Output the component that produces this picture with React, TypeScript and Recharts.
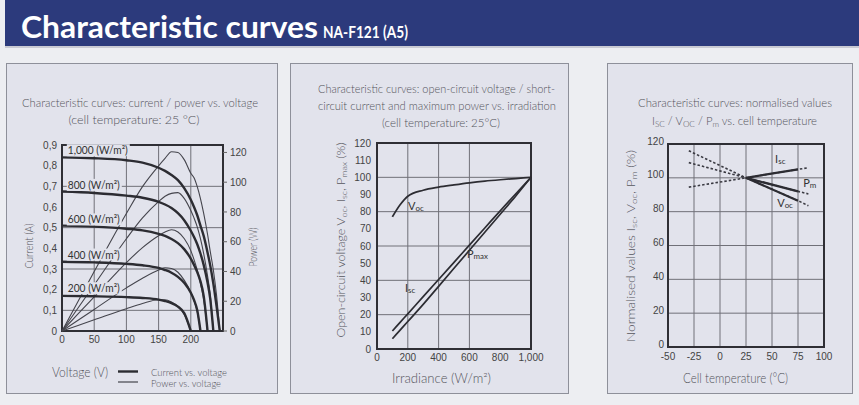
import React from 'react';
import {
  CartesianGrid,
  Line,
  LineChart,
  ReferenceArea,
  ReferenceDot,
  XAxis,
  YAxis,
} from 'recharts';

// panel 1: current / power vs. voltage, one curve pair per irradiance level
const voltage = [0, 50, 100, 125, 150, 160, 170, 180, 190, 200, 205, 210, 215, 220, 226, 230, 235, 240, 245];
const current1000 = [0.84, 0.836, 0.826, 0.815, 0.79, 0.775, 0.755, 0.73, 0.69, 0.635, 0.6, 0.56, 0.51, 0.46, 0.38, 0.32, 0.23, 0.12, 0];
const power1000 = [0, 40, 79, 97, 111, 116, 120.5, 120, 115, 106, 103, 97, 89, 79, 65, 54, 41, 24, 0];
const current800 = [0.675, 0.668, 0.655, 0.645, 0.625, 0.612, 0.595, 0.57, 0.535, 0.485, 0.455, 0.42, 0.375, 0.32, 0.235, 0.16, 0, null, null];
const power800 = [0, 31, 62, 76, 87, 90.5, 92.5, 93, 89, 81, 76, 70, 62, 52, 37, 25, 0, null, null];
const current600 = [0.51, 0.505, 0.495, 0.487, 0.47, 0.46, 0.445, 0.425, 0.395, 0.35, 0.32, 0.285, 0.24, 0.17, 0, null, null, null, null];
const power600 = [0, 23, 46, 56, 64, 66.5, 68, 66.5, 62, 54, 48, 41, 32, 21, 0, null, null, null, null];
const current400 = [0.335, 0.332, 0.325, 0.318, 0.305, 0.295, 0.282, 0.262, 0.232, 0.185, 0.15, 0.1, 0, null, null, null, null, null, null];
const power400 = [0, 14.5, 29, 35.5, 41, 42.5, 42, 39.5, 34, 26, 20.5, 13, 0, null, null, null, null, null, null];
const current200 = [0.17, 0.168, 0.164, 0.16, 0.152, 0.145, 0.135, 0.118, 0.085, 0, null, null, null, null, null, null, null, null, null];
const power200 = [0, 7.5, 15, 18.5, 21, 21, 19.5, 16.5, 11, 0, null, null, null, null, null, null, null, null, null];
const irradianceLevels = ['1,000', '800', '600', '400', '200'];
const voltageTicks = [0, 50, 100, 150, 200];
const currentTicks = [0, 0.1, 0.2, 0.3, 0.4, 0.5, 0.6, 0.7, 0.8, 0.9];
const powerTicks = [0, 20, 40, 60, 80, 100, 120];

// panel 2: Voc / Isc / Pmax vs. irradiance
const irradiance = [100, 150, 200, 300, 400, 500, 600, 700, 800, 900, 1000];
const vocIrr = [77, 84, 89, 92.5, 94.3, 95.6, 96.8, 97.8, 98.6, 99.3, 100];
const iscIrr = [10.5, 15.5, 20.5, 30.5, 40.5, 50.5, 60.5, 70.5, 80.5, 90.3, 100];
const pmaxIrr = [6, 11, 16, 26, 36.5, 47, 57.5, 68, 78.5, 89, 100];
const irrTicks = [0, 200, 400, 600, 800, 1000];
const pctTicks = [0, 10, 20, 30, 40, 50, 60, 70, 80, 90, 100, 110, 120];

// panel 3: normalised values vs. cell temperature
const cellTemp = [-30, 25, 75, 85];
const iscTemp = [94.5, 100, 105, 106];
const vocTemp = [116, 100, 86.5, 83.5];
const pmTemp = [109, 100, 92, 90.5];
const iscTempSolid = [null, 100, 105, null];
const vocTempSolid = [null, 100, 86.5, null];
const pmTempSolid = [null, 100, 92, null];
const tempTicks = [-50, -25, 0, 25, 50, 75, 100];
const normTicks = [0, 20, 40, 60, 80, 100, 120];

const ivData = voltage.map((v, k) => ({
  v,
  i1000: current1000[k], p1000: power1000[k],
  i800: current800[k], p800: power800[k],
  i600: current600[k], p600: power600[k],
  i400: current400[k], p400: power400[k],
  i200: current200[k], p200: power200[k],
}));
const irrData = irradiance.map((g, k) => ({ g, voc: vocIrr[k], isc: iscIrr[k], pmax: pmaxIrr[k] }));
const tempData = cellTemp.map((t, k) => ({
  t,
  isc: iscTemp[k], voc: vocTemp[k], pm: pmTemp[k],
  iscS: iscTempSolid[k], vocS: vocTempSolid[k], pmS: pmTempSolid[k],
}));
const levelKeys = ['1000', '800', '600', '400', '200'];
const levelY = [0.875, 0.707, 0.54, 0.37, 0.207];

const PAGE = '#edeef2';
const PANEL = '#e2e3ec';
const BORDER = '#8e909a';
const GRID = '#707078';
const FRAME = '#2f2f35';
const INK = '#2c2c32';
const F = 'Lato, sans-serif';
const tick = { fontSize: 10, fill: '#444', fontFamily: 'Liberation Sans, Arial, sans-serif' };

const comma = (v: number) => String(v).replace('.', ',');
const thousands = (v: number) => (v === 1000 ? '1,000' : String(v));

// text pieces: [text, shift] where shift 0 = normal, 3 = subscript
const rich = (parts: Array<[string, number]>, fs: number) => {
  let cur = 0;
  return parts.map(([t, s], k) => {
    const dy = s - cur;
    cur = s;
    return (
      <tspan key={k} dy={dy} fontSize={s === 0 ? fs : fs * 0.72}>
        {t}
      </tspan>
    );
  });
};

const T = ({ x, y, w, size = 12, anchor = 'middle', rot = false, color = '#55555c', weight = 300, children }: any) => (
  <text
    x={x}
    y={y}
    fontSize={size}
    fontFamily={F}
    fontWeight={weight}
    fill={color}
    textAnchor={anchor}
    dominantBaseline="central"
    textLength={w}
    lengthAdjust="spacingAndGlyphs"
    transform={rot ? `rotate(-90 ${x} ${y})` : undefined}
  >
    {children}
  </text>
);

const irrLabel = (text: string, w: number) => (props: any) => {
  const vb = props.viewBox ?? props;
  return (
    <g>
      <rect x={vb.x - 1} y={vb.y - 6} width={w + 3} height={12} fill={PANEL} />
      <text x={vb.x} y={vb.y} dominantBaseline="central" fontSize={10.5} fontFamily={F} fill="#333" textLength={w} lengthAdjust="spacingAndGlyphs">
        {text} (W/m²)
      </text>
    </g>
  );
};

const subLabel = (main: string, sub: string, fs = 11) => (props: any) => {
  const vb = props.viewBox ?? props;
  return (
    <text x={vb.x} y={vb.y} dominantBaseline="central" fontSize={fs} fontFamily={F} fill="#333">
      {rich([[main, 0], [sub, 3]], fs)}
    </text>
  );
};

export default function App() {
  return (
    <div style={{ position: 'absolute', left: 0, top: 0, width: 859, height: 405, background: PAGE, overflow: 'hidden' }}>
      <div style={{ position: 'absolute', left: 5, top: 0, width: 854, height: 46, background: '#2c3a7c' }} />
      <div style={{ position: 'absolute', left: 5, top: 46, width: 854, height: 2, background: '#c9cad3' }} />
      <div style={{ position: 'absolute', left: 6, top: 63, width: 270, height: 329, background: PANEL, border: `1px solid ${BORDER}` }} />
      <div style={{ position: 'absolute', left: 290, top: 63, width: 277, height: 329, background: PANEL, border: `1px solid ${BORDER}` }} />
      <div style={{ position: 'absolute', left: 607, top: 63, width: 244, height: 329, background: PANEL, border: `1px solid ${BORDER}` }} />

      <div style={{ position: 'absolute', left: 0, top: 130 }}>
        <LineChart width={270} height={221} data={ivData} margin={{ top: 15, right: 17, bottom: 0, left: 22 }}>
          <CartesianGrid stroke={GRID} yAxisId="i" />
          <XAxis dataKey="v" type="number" domain={[0, 250]} ticks={voltageTicks} axisLine={false} tickLine={false} tickSize={3} tickMargin={2} tick={tick} height={20} />
          <YAxis yAxisId="i" domain={[0, 0.9]} ticks={currentTicks} tickFormatter={comma} axisLine={false} tickLine={false} tickSize={3} tickMargin={2} tick={tick} width={40} />
          <YAxis yAxisId="p" orientation="right" domain={[0, 125]} ticks={powerTicks} axisLine={false} tickLine={{ stroke: '#666' }} tickSize={4} tickMargin={3} tick={tick} width={30} />
          {levelKeys.map((k) => (
            <Line key={'p' + k} yAxisId="p" dataKey={'p' + k} type="monotone" stroke="#45454d" strokeWidth={1.1} dot={false} isAnimationActive={false} />
          ))}
          {levelKeys.map((k) => (
            <Line key={'i' + k} yAxisId="i" dataKey={'i' + k} type="monotone" stroke={INK} strokeWidth={2.4} dot={false} isAnimationActive={false} />
          ))}
          <ReferenceArea yAxisId="i" x1={0} x2={250} y1={0} y2={0.9} fill="none" stroke={FRAME} strokeWidth={2} />
          {irradianceLevels.map((t, k) => (
            <ReferenceDot key={t} yAxisId="i" x={9} y={levelY[k]} r={0} fill="none" stroke="none" label={irrLabel(t, k === 0 ? 60 : 52)} />
          ))}
        </LineChart>
      </div>

      <div style={{ position: 'absolute', left: 290, top: 128 }}>
        <LineChart width={270} height={241} data={irrData} margin={{ top: 15, right: 29, bottom: 0, left: 47 }}>
          <CartesianGrid stroke={GRID} />
          <XAxis dataKey="g" type="number" domain={[0, 1000]} ticks={irrTicks} tickFormatter={thousands} axisLine={false} tickLine={false} tickSize={3} tickMargin={2} tick={tick} height={20} />
          <YAxis domain={[0, 120]} ticks={pctTicks} axisLine={false} tickLine={false} tickSize={3} tickMargin={3} tick={tick} width={40} />
          <Line dataKey="voc" type="monotone" stroke={INK} strokeWidth={1.7} dot={false} isAnimationActive={false} />
          <Line dataKey="isc" type="monotone" stroke={INK} strokeWidth={1.7} dot={false} isAnimationActive={false} />
          <Line dataKey="pmax" type="monotone" stroke={INK} strokeWidth={1.7} dot={false} isAnimationActive={false} />
          <ReferenceArea x1={0} x2={1000} y1={0} y2={120} fill="none" stroke={FRAME} strokeWidth={2} />
          <ReferenceDot x={201} y={84} r={0} fill="none" stroke="none" label={subLabel('V', 'oc')} />
          <ReferenceDot x={584} y={56} r={0} fill="none" stroke="none" label={subLabel('P', 'max')} />
          <ReferenceDot x={182} y={36} r={0} fill="none" stroke="none" label={subLabel('I', 'sc')} />
        </LineChart>
      </div>

      <div style={{ position: 'absolute', left: 607, top: 129 }}>
        <LineChart width={245} height={238} data={tempData} margin={{ top: 15, right: 28, bottom: 0, left: 31 }}>
          <CartesianGrid stroke={GRID} />
          <XAxis dataKey="t" type="number" domain={[-50, 100]} ticks={tempTicks} axisLine={false} tickLine={false} tickSize={3} tickMargin={3} tick={tick} height={20} />
          <YAxis domain={[0, 120]} ticks={normTicks} axisLine={false} tickLine={false} tickSize={2} tickMargin={2} tick={{ ...tick, dy: -3 }} width={30} />
          <Line dataKey="isc" stroke="#3a3a42" strokeWidth={1.6} strokeDasharray="2.5 2" dot={false} isAnimationActive={false} />
          <Line dataKey="voc" stroke="#3a3a42" strokeWidth={1.6} strokeDasharray="2.5 2" dot={false} isAnimationActive={false} />
          <Line dataKey="pm" stroke="#3a3a42" strokeWidth={1.6} strokeDasharray="2.5 2" dot={false} isAnimationActive={false} />
          <Line dataKey="iscS" stroke={INK} strokeWidth={2.2} dot={false} isAnimationActive={false} />
          <Line dataKey="vocS" stroke={INK} strokeWidth={2.2} dot={false} isAnimationActive={false} />
          <Line dataKey="pmS" stroke={INK} strokeWidth={2.2} dot={false} isAnimationActive={false} />
          <ReferenceArea x1={-50} x2={100} y1={0} y2={120} fill="none" stroke={FRAME} strokeWidth={2} />
          <ReferenceDot x={53} y={112} r={0} fill="none" stroke="none" label={subLabel('I', 'sc')} />
          <ReferenceDot x={80} y={97.5} r={0} fill="none" stroke="none" label={subLabel('P', 'm')} />
          <ReferenceDot x={55} y={85.7} r={0} fill="none" stroke="none" label={subLabel('V', 'oc')} />
        </LineChart>
      </div>

      <svg width={859} height={405} style={{ position: 'absolute', left: 0, top: 0, pointerEvents: 'none' }}>
        <text x={21} y={38} fontSize={30} fontWeight={700} fontFamily={F} fill="#fff" textLength={297} lengthAdjust="spacingAndGlyphs">
          Characteristic curves
        </text>
        <text x={323} y={38} fontSize={17} fontWeight={700} fontFamily={F} fill="#fff" textLength={85} lengthAdjust="spacingAndGlyphs">
          NA-F121 (A5)
        </text>

        <T x={140} y={102} w={236}>Characteristic curves: current / power vs. voltage</T>
        <T x={134} y={119} w={131}>(cell temperature: 25 °C)</T>
        <T x={28} y={246} w={45} rot>Current (A)</T>
        <T x={252} y={247} w={39} rot>Power (W)</T>
        <T x={80} y={372} w={56} size={13}>Voltage (V)</T>
        <line x1={118} x2={138} y1={371.5} y2={371.5} stroke={INK} strokeWidth={2.4} />
        <line x1={118} x2={138} y1={382} y2={382} stroke="#45454d" strokeWidth={1.2} />
        <T x={151} y={372} w={76} size={10} anchor="start">Current vs. voltage</T>
        <T x={151} y={383} w={70} size={10} anchor="start">Power vs. voltage</T>

        <T x={436.5} y={88} w={237}>Characteristic curves: open-circuit voltage / short-</T>
        <T x={437} y={105} w={238}>circuit current and maximum power vs. irradiation</T>
        <T x={441} y={122} w={118}>(cell temperature: 25°C)</T>
        <T x={340} y={240} w={195} rot>
          {rich([['Open-circuit voltage V', 0], ['oc', 3], [', I', 0], ['sc', 3], [', P', 0], ['max', 3], [' (%)', 0]], 12)}
        </T>
        <T x={441.5} y={378} w={99} size={13}>Irradiance (W/m²)</T>

        <T x={735} y={102} w={194}>Characteristic curves: normalised values</T>
        <T x={734.5} y={120} w={165}>
          {rich([['I', 0], ['SC', 3], [' / V', 0], ['OC', 3], [' / P', 0], ['m', 3], [' vs. cell temperature', 0]], 12)}
        </T>
        <T x={630} y={246} w={192} rot>
          {rich([['Normalised values I', 0], ['sc', 3], [', V', 0], ['oc', 3], [', P', 0], ['m', 3], [' (%)', 0]], 12)}
        </T>
        <T x={735.5} y={378} w={105} size={13}>Cell temperature (°C)</T>
      </svg>
    </div>
  );
}
